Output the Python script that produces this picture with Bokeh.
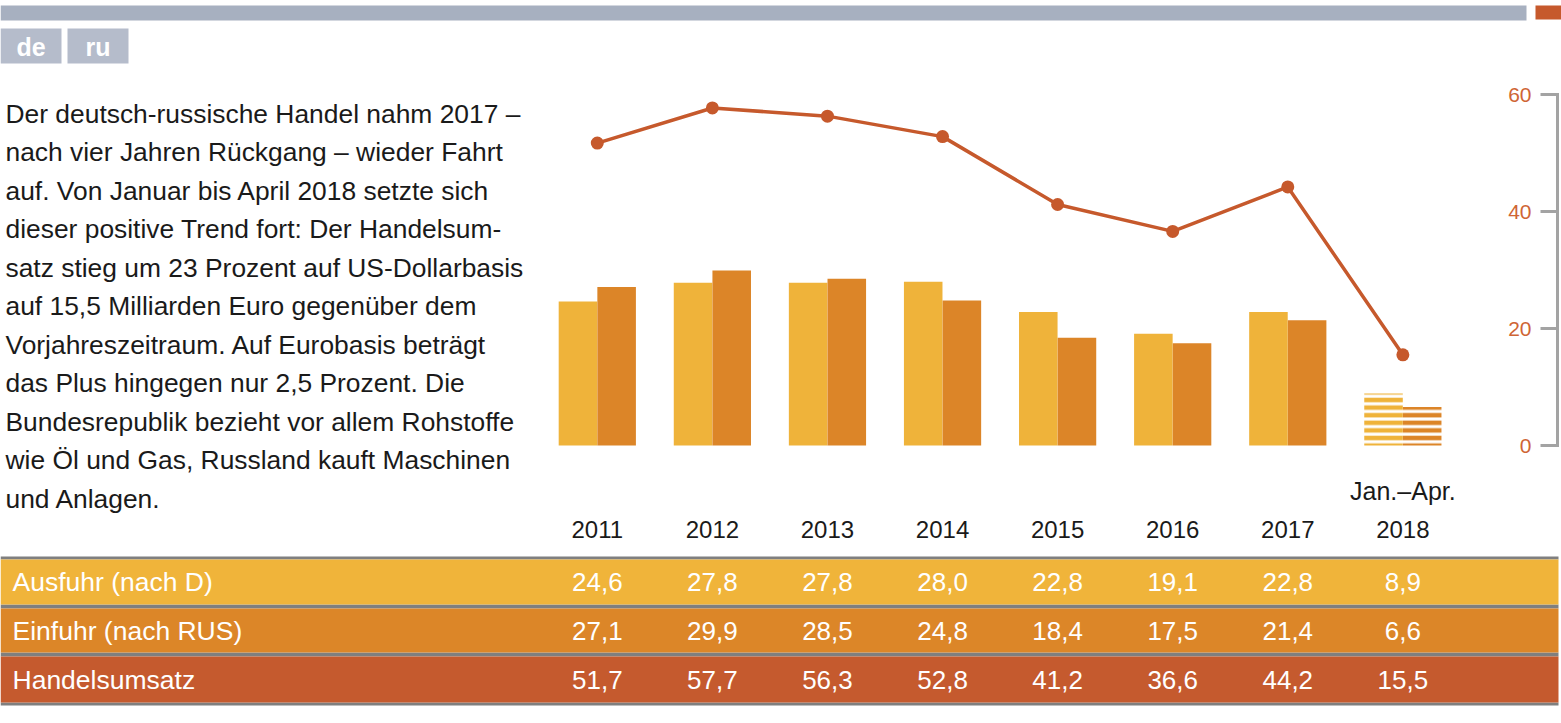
from bokeh.plotting import figure
from bokeh.models import Range1d
from bokeh.core.properties import value
from bokeh.embed import file_html
from bokeh.resources import INLINE

# ---------------- data ----------------
years = ["2011", "2012", "2013", "2014", "2015", "2016", "2017", "2018"]
ausfuhr = [24.6, 27.8, 27.8, 28.0, 22.8, 19.1, 22.8, 8.9]
einfuhr = [27.1, 29.9, 28.5, 24.8, 18.4, 17.5, 21.4, 6.6]
umsatz = [51.7, 57.7, 56.3, 52.8, 41.2, 36.6, 44.2, 15.5]
y_ticks = [0, 20, 40, 60]
row_labels = ["Ausfuhr (nach D)", "Einfuhr (nach RUS)", "Handelsumsatz"]
partial_note = "Jan.–Apr."
lang_tabs = ["de", "ru"]
paragraph = [
    "Der deutsch-russische Handel nahm 2017 –",
    "nach vier Jahren Rückgang – wieder Fahrt",
    "auf. Von Januar bis April 2018 setzte sich",
    "dieser positive Trend fort: Der Handelsum-",
    "satz stieg um 23 Prozent auf US-Dollarbasis",
    "auf 15,5 Milliarden Euro gegenüber dem",
    "Vorjahreszeitraum. Auf Eurobasis beträgt",
    "das Plus hingegen nur 2,5 Prozent. Die",
    "Bundesrepublik bezieht vor allem Rohstoffe",
    "wie Öl und Gas, Russland kauft Maschinen",
    "und Anlagen.",
]

# ---------------- styles ----------------
C_AUS = "#efb33a"
C_EIN = "#dc8528"
C_UMS = "#c6592c"
C_ROW = ["#f0b43a", "#dc8628", "#c55a2e"]
C_GREY = "#7f7f7f"
C_BAR = "#a7b0c0"
C_TAB = "#b5bccb"
F_REG = value("Liberation Sans")

W, H = 1561, 723
p = figure(width=W, height=H, x_range=Range1d(0, W), y_range=Range1d(H, 0),
           output_backend="svg", toolbar_location=None, min_border=0)
p.axis.visible = False
p.grid.visible = False
p.outline_line_color = None
p.background_fill_color = "white"
p.border_fill_color = "white"

# category scale and value scale placed in the chart area
x0px, step = 596.8, 115.08
p.extra_x_ranges = {"yr": Range1d(-x0px / step, (W - x0px) / step)}
zero_px, top_px = 445.0, 94.0
unit = (zero_px - top_px) / (max(y_ticks) - min(y_ticks))
p.extra_y_ranges = {"val": Range1d(-(H - zero_px) / unit, zero_px / unit)}

idx = list(range(len(years)))
n_full = len(years) - 1
bw, off = 0.335, 0.168

# header decoration
p.quad(left=[0], right=[1526], top=[5], bottom=[20], fill_color=C_BAR, line_color=None)
p.quad(left=[1535], right=[W], top=[5], bottom=[19], fill_color=C_UMS, line_color=None)
tab_left = [0, 67]
tab_w = 61
p.quad(left=tab_left, right=[l + tab_w for l in tab_left], top=[28] * 2, bottom=[63] * 2,
       fill_color=C_TAB, line_color=None)
p.text(x=[l + tab_w / 2 for l in tab_left], y=[46] * 2, text=lang_tabs, text_align="center",
       text_baseline="middle", text_color="white", text_font=F_REG,
       text_font_style="bold", text_font_size="25px")

# paragraph
p.text(x=[5] * len(paragraph), y=[113 + 38.5 * i for i in range(len(paragraph))],
       text=paragraph, text_align="left", text_baseline="alphabetic",
       text_color="#1a1a1a", text_font=F_REG, text_font_size="26.4px")

# bars (full years)
p.vbar(x=[i - off for i in idx[:n_full]], top=ausfuhr[:n_full], bottom=0, width=bw,
       x_range_name="yr", y_range_name="val", fill_color=C_AUS, line_color=None)
p.vbar(x=[i + off for i in idx[:n_full]], top=einfuhr[:n_full], bottom=0, width=bw,
       x_range_name="yr", y_range_name="val", fill_color=C_EIN, line_color=None)
# partial year (striped)
p.vbar(x=[i - off for i in idx[n_full:]], top=ausfuhr[n_full:], bottom=0, width=bw,
       x_range_name="yr", y_range_name="val", fill_color=None, line_color=None,
       hatch_pattern="horizontal_line", hatch_color=C_AUS, hatch_weight=4.5, hatch_scale=7.6)
p.vbar(x=[i + off for i in idx[n_full:]], top=einfuhr[n_full:], bottom=0, width=bw,
       x_range_name="yr", y_range_name="val", fill_color=None, line_color=None,
       hatch_pattern="horizontal_line", hatch_color=C_EIN, hatch_weight=4.5, hatch_scale=7.6)

# total line
p.line(x=idx, y=umsatz, x_range_name="yr", y_range_name="val", line_color=C_UMS, line_width=3.5)
p.scatter(x=idx, y=umsatz, x_range_name="yr", y_range_name="val", size=13,
          fill_color=C_UMS, line_color=None)

# right value axis
ax_x = 1557
p.segment(x0=[ax_x], x1=[ax_x], y0=[min(y_ticks)], y1=[max(y_ticks)], y_range_name="val",
          line_color="#a3a3a3", line_width=3)
p.segment(x0=[1540] * len(y_ticks), x1=[ax_x + 1.5] * len(y_ticks), y0=y_ticks, y1=y_ticks,
          y_range_name="val", line_color="#a3a3a3", line_width=3)
p.text(x=[1531] * len(y_ticks), y=y_ticks, text=[str(t) for t in y_ticks], y_range_name="val",
       text_align="right", text_baseline="middle", text_color="#cf6535",
       text_font=F_REG, text_font_size="21px")

# year labels
p.text(x=idx, y=[529] * len(idx), text=years, x_range_name="yr", text_align="center",
       text_baseline="middle", text_color="#1a1a1a", text_font=F_REG, text_font_size="24px")
p.text(x=[idx[-1]], y=[490], text=[partial_note], x_range_name="yr", text_align="center",
       text_baseline="middle", text_color="#1a1a1a", text_font=F_REG, text_font_size="25px")

# table
row_top = [559, 608, 656]
row_bot = [604, 652, 702]
tab_right = 1558
p.quad(left=[0] * 4, right=[tab_right] * 4, top=[556, 604, 652, 702], bottom=[559, 608, 656, 705],
       fill_color=C_GREY, line_color=None)
p.quad(left=[0] * 3, right=[tab_right] * 3, top=row_top, bottom=row_bot, fill_color=C_ROW,
       line_color=None)
centers = [(a + b) / 2 for a, b in zip(row_top, row_bot)]
p.text(x=[12] * 3, y=centers, text=row_labels, text_align="left", text_baseline="middle",
       text_color="white", text_font=F_REG, text_font_size="26.5px")


def fmt(v):
    return f"{v:.1f}".replace(".", ",")


for series, cy in zip([ausfuhr, einfuhr, umsatz], centers):
    p.text(x=idx, y=[cy] * len(idx), text=[fmt(v) for v in series], x_range_name="yr",
           text_align="center", text_baseline="middle", text_color="white",
           text_font=F_REG, text_font_size="26px")

open("out.html", "w").write(file_html(p, INLINE))
